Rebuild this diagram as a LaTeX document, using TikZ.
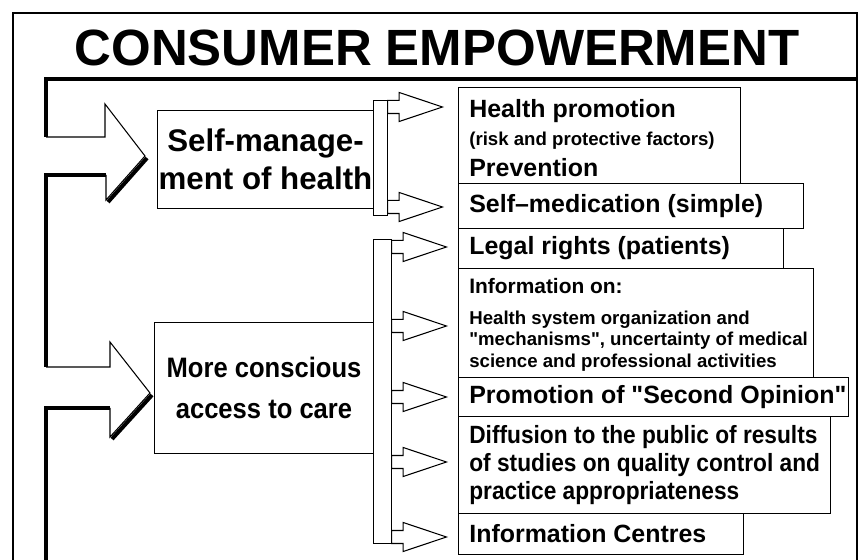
\documentclass[tikz,border=0pt]{standalone}
\usepackage{fontspec}
\setmainfont{Liberation Sans}[Ligatures=TeXOff]
\newfontfamily\narrowfont[FakeStretch=0.91]{Liberation Sans}
\usetikzlibrary{shapes.arrows}
\newcommand\bigtxt{\fontsize{14.2}{16}\selectfont}
\newcommand\midtxt{\fontsize{11.9}{14}\selectfont}
\newcommand\smalltxt{\fontsize{10.6}{12.4}\selectfont}
\tikzset{
  thinline/.style  ={line width=0.6pt},
  shadowline/.style={line width=2.3pt},
  topicbox/.style  ={draw,thinline,fill=white,align=center,inner sep=0pt,anchor=north west},
  splitbar/.style  ={draw,thinline,fill=white,inner sep=0pt,anchor=north west},
  itembox/.style   ={draw,thinline,inner sep=0pt,anchor=north west},
  itemtext/.style  ={anchor=west,align=left,inner sep=0pt,font=\bfseries\bigtxt},
  branch/.style    ={single arrow,draw,thinline,fill=white,anchor=tail,minimum width=0.56cm,
                     single arrow head extend=0.16cm,single arrow tip angle=37,
                     inner xsep=0pt,inner ysep=0.12cm,minimum height=1.1cm},
}

\begin{document}
\begin{tikzpicture}[x=0.02cm,y=-0.02cm]
  \useasboundingbox (0,0) rectangle (859,560);
  % frame and title bar
  \draw[thinline] (13,560) -- (13,13) -- (857,13) -- (857,560);
  \node[font=\bfseries\fontsize{29}{34}\selectfont,anchor=base] (title) at (437,66) {CONSUMER EMPOWERMENT};
  % channel down the left side with its two block arrows
  \draw[thinline] (46,137) -- (105,137) -- (105,104) -- (145,156) -- (106,200) -- (106,175);
  \draw[thinline] (46,367) -- (110,367) -- (110,342) -- (150,393) -- (110,437) -- (110,408);
  \draw[shadowline] (857,79) -- (46,79) -- (46,137);
  \draw[shadowline] (106,175) -- (46,175) -- (46,367);
  \draw[shadowline] (110,408) -- (46,408) -- (46,560);
  \draw[shadowline] (147,158) -- (108,202);
  \draw[shadowline] (152,395) -- (112,439);
  % the two topics
  \node[topicbox,minimum width=4.32cm,minimum height=1.96cm,font=\bfseries\fontsize{17.8}{21.5}\selectfont] (selfman) at (157,110) {Self-manage-\\ment of health};
  \node[topicbox,minimum width=4.38cm,minimum height=2.62cm,font=\narrowfont\bfseries\fontsize{16}{23.3}\selectfont] (access) at (154,322) {More conscious\\access to care};
  \node[splitbar,minimum width=0.28cm,minimum height=2.3cm] (bar1) at (373,100) {};
  \node[splitbar,minimum width=0.36cm,minimum height=6.08cm] (bar2) at (373,239) {};
  \foreach \y [count=\i] in {107,207}{\node[branch] (sm\i) at (387,\y) {};}
  \foreach \y [count=\i] in {247,326,397,462,537}{\node[branch] (ac\i) at (391,\y) {};}
  % items
  \node[itembox,minimum width=5.64cm,minimum height=1.92cm] (promo) at (458,87) {};
  \node[itemtext] (promotxt) at ([xshift=0.22cm,yshift=-0.05cm]promo.west) {Health promotion\\{\smalltxt (risk and protective factors)}\\[2pt]Prevention};
  \node[itembox,minimum width=6.9cm,minimum height=0.9cm] (medic) at (458,183) {};
  \node[itemtext] (medictxt) at ([xshift=0.22cm]medic.west) {Self\textendash medication (simple)};
  \node[itembox,minimum width=6.5cm,minimum height=0.8cm] (legal) at (458,228) {};
  \node[itemtext] (legaltxt) at ([xshift=0.22cm]legal.west) {Legal rights (patients)};
  \node[itembox,minimum width=7.1cm,minimum height=2.18cm] (info) at (458,268) {};
  \node[itemtext,font=\bfseries\smalltxt] (infotxt) at ([xshift=0.22cm,yshift=-0.04cm]info.west) {{\midtxt Information on:}\\[5pt]Health system organization and\\"mechanisms", uncertainty of medical\\science and professional activities};
  \node[itembox,minimum width=7.8cm,minimum height=0.78cm] (second) at (458,377) {};
  \node[itemtext] (secondtxt) at ([xshift=0.22cm]second.west) {Promotion of "Second Opinion"};
  \node[itembox,minimum width=7.44cm,minimum height=1.94cm] (diffu) at (458,416) {};
  \node[itemtext,font=\narrowfont\bfseries\bigtxt] (diffutxt) at ([xshift=0.22cm]diffu.west) {Diffusion to the public of results\\of studies on quality control and\\practice appropriateness};
  \node[itembox,minimum width=5.7cm,minimum height=0.82cm] (centres) at (458,513) {};
  \node[itemtext] (centrestxt) at ([xshift=0.22cm]centres.west) {Information Centres};
\end{tikzpicture}
\end{document}
